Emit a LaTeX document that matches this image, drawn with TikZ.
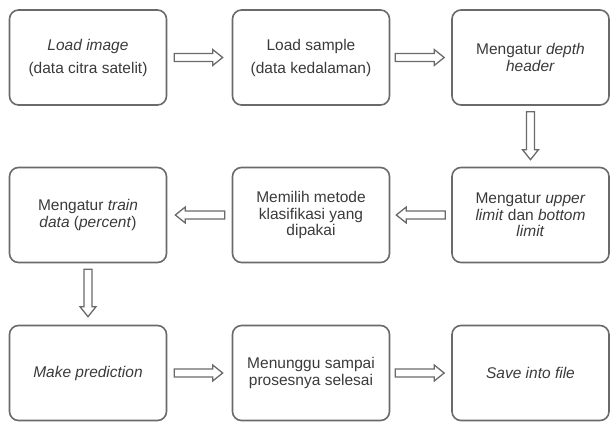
\documentclass[tikz,border=0pt]{standalone}
\usepackage{fontspec}
\setmainfont{Liberation Sans}
\usetikzlibrary{calc}
\definecolor{boxline}{HTML}{6A6A6A}
\definecolor{txt}{HTML}{3A3A3A}
\definecolor{arrline}{HTML}{6A6A6A}
\tikzset{
  stepbox/.style={draw=boxline, line width=1.6pt, rounded corners=9pt,
    minimum width=157pt, minimum height=95pt, align=center, text=txt,
    inner sep=2pt, font=\fontsize{15.5}{16.5}\selectfont},
  widebox/.style={stepbox, font=\fontsize{15.5}{23}\selectfont},
  arrowbody/.style={draw=arrline, line width=1.3pt, fill=white, line join=miter}
}
% block (hollow) arrow between two named anchors
\newcommand{\blockarrow}[4]{%
  \path ($(#1)!#3!(#2)$) coordinate (bs) ($(#2)!#4!(#1)$) coordinate (bt);
  \path ($(bt)!10pt!(bs)$) coordinate (bh);
  \draw[arrowbody] ($(bs)!4pt!90:(bt)$) -- ($(bh)!4pt!90:(bt)$) --
    ($(bh)!8pt!90:(bt)$) -- (bt) -- ($(bh)!8pt!-90:(bt)$) --
    ($(bh)!4pt!-90:(bt)$) -- ($(bs)!4pt!-90:(bt)$) -- cycle;}
\begin{document}
\begin{tikzpicture}[x=1pt,y=-1pt]
\useasboundingbox (0,0) rectangle (611,423);
% row 1
\node[widebox] (b1) at (88,57.5) {\textit{Load image}\\(data citra satelit)};
\node[widebox] (b2) at (311,57.5) {Load sample\\(data kedalaman)};
\node[stepbox] (b3) at (530.5,57.5) {Mengatur \textit{depth}\\\textit{header}};
% row 2
\node[stepbox] (b4) at (530.5,215) {Mengatur \textit{upper}\\\textit{limit} dan \textit{bottom}\\\textit{limit}};
\node[stepbox] (b5) at (311,215) {Memilih metode\\klasifikasi yang\\dipakai};
\node[stepbox] (b6) at (88,215) {Mengatur \textit{train}\\\textit{data} (\textit{percent})};
% row 3
\node[stepbox] (b7) at (88,373) {\textit{Make prediction}};
\node[stepbox] (b8) at (311,373) {Menunggu sampai\\prosesnya selesai};
\node[stepbox] (b9) at (530.5,373) {\textit{Save into file}};
% arrows
\blockarrow{b1.east}{b2.west}{7pt}{9pt}
\blockarrow{b2.east}{b3.west}{5pt}{7pt}
\blockarrow{b3.south}{b4.north}{6pt}{7pt}
\blockarrow{b4.west}{b5.east}{6pt}{6pt}
\blockarrow{b5.west}{b6.east}{7pt}{8pt}
\blockarrow{b6.south}{b7.north}{6pt}{8pt}
\blockarrow{b7.east}{b8.west}{7pt}{9pt}
\blockarrow{b8.east}{b9.west}{5pt}{7pt}
\end{tikzpicture}
\end{document}
